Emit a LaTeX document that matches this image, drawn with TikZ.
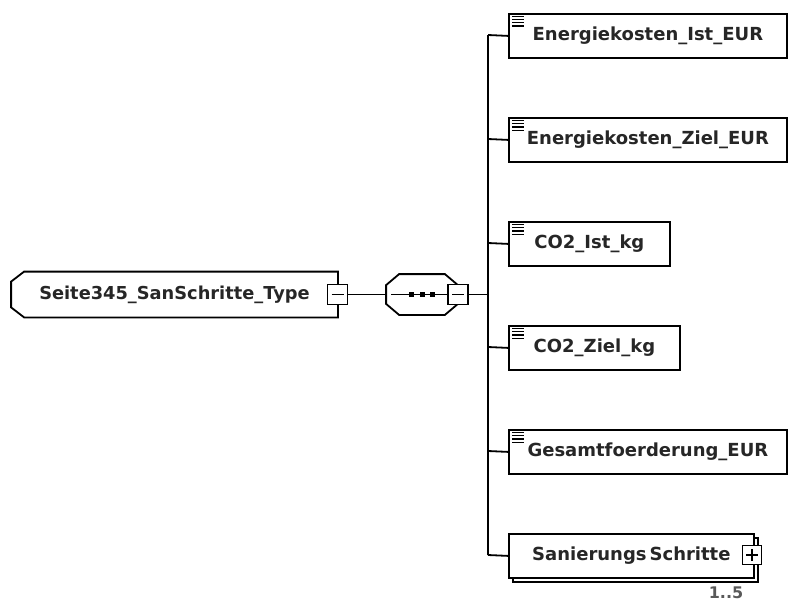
\documentclass[tikz,border=0pt]{standalone}
\usepackage{fontspec}
\setmainfont{DejaVu Sans}

\begin{document}
\begin{tikzpicture}[x=1pt,y=-1pt,line width=1.8pt]
\tikzstyle{elem} = [draw, fill=white, minimum height=44pt, inner sep=0, anchor=north west, font=\bfseries\fontsize{18}{20}\selectfont, text=black!85]
\tikzstyle{pm} = [draw, fill=white, minimum size=20pt, inner sep=0, line width=1.5pt]
\useasboundingbox (0,0) rectangle (790,602);

% Tipo complesso
\node[minimum width=325pt, minimum height=44pt, inner sep=0, font=\bfseries\fontsize{17.8}{20}\selectfont, text=black!85] (type) at (174.5,294.5) {Seite345\_SanSchritte\_Type};
\draw ([xshift=13pt]type.north west) -- (type.north east) -- (type.south east)
  -- ([xshift=13pt]type.south west) -- ([yshift=10pt]type.south west)
  -- ([yshift=-10pt]type.north west) -- cycle;
\node[pm] (tmin) at (337.5,294.5) {};
\draw[line width=1.3pt] ([xshift=-6pt]tmin.center) -- ([xshift=6pt]tmin.center);

% Sequenza
\node[minimum width=70pt, minimum height=39pt, inner sep=0] (seq) at (422,294.5) {};
\draw ([xshift=13pt]seq.north west) -- ([xshift=-13pt]seq.north east) -- ([yshift=-11pt]seq.north east)
  -- ([yshift=11pt]seq.south east) -- ([xshift=-13pt]seq.south east) -- ([xshift=13pt]seq.south west)
  -- ([yshift=11pt]seq.south west) -- ([yshift=-11pt]seq.north west) -- cycle;
\node[pm] (smin) at (458,294.5) {};
\draw[line width=1.3pt] ([xshift=-6pt]smin.center) -- ([xshift=6pt]smin.center);
\draw[line width=1.3pt] ([xshift=5pt]seq.west) -- (smin.west);
\foreach \dx in {-10.5,0,10.5}
  \fill ([xshift=\dx pt]seq.center) ++(-2.5,-2.5) rectangle ++(5,5);
\draw (tmin.east) -- (seq.west);

% Elementi
\coordinate (hub) at (488,294.5);
\draw (smin.east) -- (hub);
\foreach \i/\txt/\w in {0/Energiekosten\_Ist\_EUR/278, 1/Energiekosten\_Ziel\_EUR/278,
    2/CO2\_Ist\_kg/161, 3/CO2\_Ziel\_kg/171, 4/Gesamtfoerderung\_EUR/278} {
  \pgfmathsetmacro\y{13+104*\i}
  \node[elem, minimum width=\w pt] (el\i) at (508,\y) {\txt};
  \coordinate (k\i) at (488,\y+22);
  \draw (k\i) -- (el\i.west);
  \foreach \k in {0,...,3}
    \draw[line width=1.2pt] ([xshift=4pt,yshift={-(3.5+3.2*\k)*1pt}]el\i.north west) -- ++(12,0);
}

% Elemento ripetuto
\draw[fill=white] (513,538) rectangle (758,582);
\node[elem, minimum width=245pt] (el5) at (508,533) {Sanierungs\,Schritte};
\coordinate (k5) at (488,555);
\draw (k5) -- (el5.west);
\draw (k0) -- (k5);
\node[pm, minimum size=19pt] (splus) at (752,555) {};
\draw[line width=1.3pt] ([xshift=-6pt]splus.center) -- ([xshift=6pt]splus.center)
  ([yshift=-6pt]splus.center) -- ([yshift=6pt]splus.center);
\node[font=\bfseries\fontsize{16}{18}\selectfont, text=black!65] (card) at (726,593) {1..5};

\end{tikzpicture}
\end{document}
